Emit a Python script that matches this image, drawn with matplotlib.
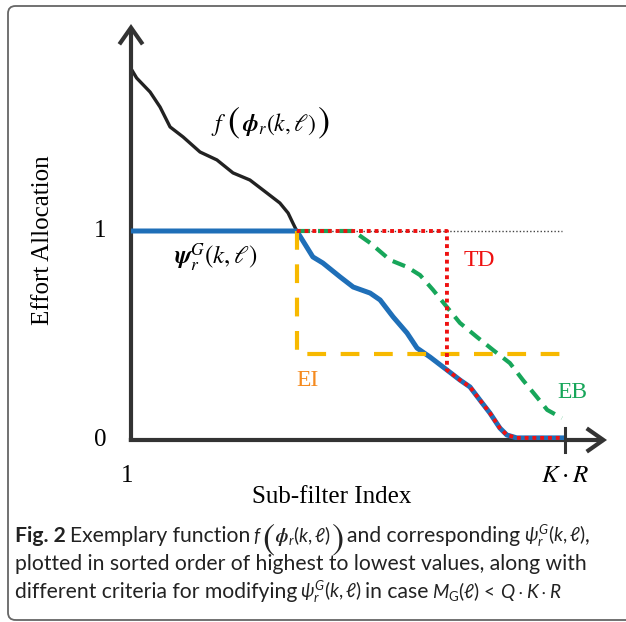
import matplotlib
matplotlib.use("Agg")
import matplotlib.pyplot as plt
import numpy as np
from matplotlib.patches import FancyBboxPatch

cap = 'Lato'
plt.rcParams['mathtext.fontset'] = 'custom'
plt.rcParams['mathtext.rm'] = cap
plt.rcParams['mathtext.it'] = cap + ':italic'
plt.rcParams['mathtext.bf'] = cap + ':bold'
plt.rcParams['mathtext.bfit'] = 'STIXGeneral:italic:bold'
plt.rcParams['mathtext.fallback'] = 'stix'

# ---------------- data ----------------
f_x = [0.002, 0.013, 0.044, 0.067, 0.090, 0.120, 0.159, 0.198, 0.235, 0.274,
       0.313, 0.343, 0.362, 0.373, 0.382, 0.419, 0.442, 0.482, 0.512, 0.551,
       0.574, 0.604, 0.636, 0.659, 0.689, 0.728, 0.758, 0.781, 0.804, 0.827,
       0.850, 0.866, 0.889, 0.995]
f_y = [1.770, 1.732, 1.665, 1.593, 1.498, 1.450, 1.378, 1.340, 1.278, 1.244,
       1.182, 1.134, 1.086, 1.038, 1.000, 0.876, 0.847, 0.780, 0.732, 0.703,
       0.670, 0.589, 0.512, 0.440, 0.397, 0.335, 0.287, 0.254, 0.191, 0.129,
       0.057, 0.024, 0.010, 0.010]

eb_x = [0.382, 0.512, 0.551, 0.597, 0.636, 0.666, 0.696, 0.728, 0.758, 0.797,
        0.834, 0.873, 0.903, 0.935, 0.959, 0.993]
eb_y = [1.000, 1.000, 0.943, 0.861, 0.828, 0.789, 0.718, 0.636, 0.560, 0.493,
        0.431, 0.368, 0.287, 0.206, 0.144, 0.105]

td_cut = 0.728          # TD drops at this index
ei_level = 0.41         # EI constant level
ei_start = 0.382
x_end = 0.993

x_ticks = [0, 1]
x_ticklabels = ['1', r'$K\cdot R$']
y_ticks = [0, 1]
y_ticklabels = ['0', '1']

# ---------------- figure ----------------
W, H = 626, 622
fig = plt.figure(figsize=(W / 100, H / 100), dpi=100)


def fx(px):
    return px / W


def fy(py):
    return 1 - py / H


# rounded border
border = FancyBboxPatch((fx(8), fy(620)), fx(660) - fx(8), fy(6) - fy(620),
                        boxstyle="round,pad=0,rounding_size=0.012",
                        transform=fig.transFigure, fill=False,
                        ec='#666666', lw=1.3)
fig.patches.append(border)

ax = fig.add_axes([fx(131), fy(440), 476 / W, 416 / H])
ax.set_xlim(0, 476 / 434)
ax.set_ylim(0, 416 / 209)
ax.axis('off')

axc = '#333333'
f_x_arr = np.array(f_x)
f_y_arr = np.array(f_y)

# reference dotted line at 1
ax.plot([ei_start, x_end], [1, 1], color='#444444', lw=1.0, ls=(0, (1, 1.5)), zorder=2)

# black f curve
ax.plot(f_x, f_y, color='#222222', lw=2.4, zorder=3, solid_capstyle='round')

# blue psi curve = min(f, 1)
psi_x = np.concatenate([[0.0], f_x_arr])
psi_y = np.minimum(np.concatenate([[1.0], f_y_arr]), 1.0)
ax.plot(psi_x, psi_y, color='#1f6fb8', lw=3.6, zorder=4)

# EI (yellow dashed)
ax.plot([ei_start, ei_start, x_end], [1, ei_level, ei_level], color='#f7b900',
        lw=3.0, ls=(0, (4.5, 3.5)), zorder=5, dash_capstyle='butt')

# EB (green dashed)
ax.plot(eb_x, eb_y, color='#17a65a', lw=3.0, ls=(0, (3.2, 1.9)), zorder=5)

# TD (red dotted)
mask = f_x_arr > td_cut
y_cut = np.interp(td_cut, f_x_arr, f_y_arr)
td_x = np.concatenate([[ei_start, td_cut, td_cut], f_x_arr[mask]])
td_y = np.concatenate([[1, 1, y_cut], f_y_arr[mask]])
ax.plot(td_x, td_y, color='#ee1111', lw=2.8, ls=(0, (1, 1)), zorder=6,
        dash_capstyle='butt')

# axes with arrows
arrow = dict(arrowstyle='->,head_length=0.6,head_width=0.42', lw=3.0,
             color=axc, shrinkA=0, shrinkB=0, mutation_scale=20,
             joinstyle='miter', capstyle='butt')
ax.annotate('', xy=(0, 416 / 209), xytext=(0, -0.008), arrowprops=arrow,
            annotation_clip=False)
ax.annotate('', xy=(476 / 434, 0), xytext=(-0.005, 0), arrowprops=arrow,
            annotation_clip=False)
ax.plot([1, 1], [-0.057, 0.057], color=axc, lw=2.2, clip_on=False, zorder=7)

serif = 'Liberation Serif'
for xt, lab in zip(x_ticks, x_ticklabels):
    ax.text(xt - (0.01 if xt == 0 else 0), -36 / 209, lab, ha='center', va='center',
            fontsize=18, family=serif, math_fontfamily='stix')
for yt, lab in zip(y_ticks, y_ticklabels):
    ax.text(-31 / 434, yt, lab, ha='center', va='center', fontsize=18, family=serif)

fig.text(fx(332), fy(497), 'Sub-filter Index', ha='center', va='center',
         fontsize=18, family=serif)
fig.text(fx(43), fy(240), 'Effort Allocation', ha='center', va='center',
         fontsize=18, family=serif, rotation=90)

fig.canvas.draw()
renderer = fig.canvas.get_renderer()


def place(pieces, x0, yb, yc):
    """Lay text pieces out left to right; 'big' pieces are centred on yc."""
    x = x0
    for p in pieces:
        if isinstance(p, (int, float)):
            x += p
            continue
        s, kw, big = p
        if big:
            t = fig.text(fx(x), fy(yc), s, ha='left', va='center', **kw)
        else:
            t = fig.text(fx(x), fy(yb), s, ha='left', va='baseline', **kw)
        x = t.get_window_extent(renderer).x1
    return x


# curve labels
lab_kw = dict(fontsize=17, math_fontfamily='stix')
big_kw = dict(fontsize=26, math_fontfamily='stix')
place([(r'$f$', lab_kw, False), 1,
       (r'$($', big_kw, True), 1,
       (r'$\mathbfit{\phi}_r(k,\ell)$', lab_kw, False), 1,
       (r'$)$', big_kw, True)], 211, 131, 123)

fig.text(fx(216), fy(258), r'$\mathbfit{\psi}_r^G(k,\ell)$',
         ha='center', va='center', fontsize=18, math_fontfamily='stix')
fig.text(fx(479), fy(260), 'TD', ha='center', va='center', fontsize=17,
         family=serif, color='#ee1111')
fig.text(fx(308), fy(381), 'EI', ha='center', va='center', fontsize=17,
         family=serif, color='#f58a1f')
fig.text(fx(572), fy(392), 'EB', ha='center', va='center', fontsize=17,
         family=serif, color='#17a65a')

# caption
cs = 15.2
ck = dict(fontsize=cs, family=cap, color='#222222')
cm = dict(fontsize=cs * 0.9, family=cap, color='#222222')
cbig = dict(fontsize=cs * 1.75, math_fontfamily='stix', color='#222222')
place([('Fig. 2', dict(ck, weight='bold'), False), 4,
       ('Exemplary function', ck, False), 3,
       (r'$f$', cm, False), 0,
       (r'$($', cbig, True), 0,
       (r'$\mathbfit{\phi}_r(k,\ell)$', cm, False), 0,
       (r'$)$', cbig, True), 4,
       ('and corresponding', ck, False), 3,
       (r'$\psi_r^G(k,\ell)$', cm, False),
       (',', ck, False)], 15, 542, 539)
fig.text(fx(15), fy(570),
         'plotted in sorted order of highest to lowest values, along with',
         ha='left', va='baseline', **ck)
place([('different criteria for modifying', ck, False), 3,
       (r'$\psi_r^G(k,\ell)$', cm, False), 3,
       ('in case', ck, False), 3,
       (r'$M_{\mathrm{G}}(\ell)\,<\,Q\cdot K\cdot R$', cm, False)], 15, 598, 594)

fig.savefig('out.png', dpi=100)
